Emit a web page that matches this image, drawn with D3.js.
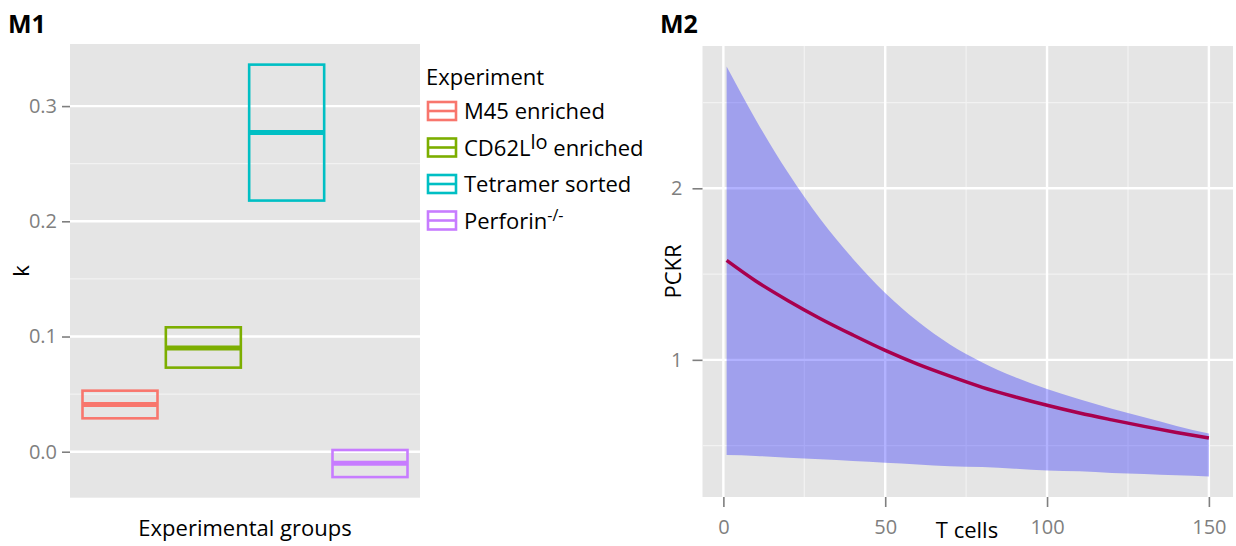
<!DOCTYPE html>
<html>
<head>
<meta charset="utf-8">
<script src="https://cdn.jsdelivr.net/npm/d3@7"></script>
<style>
  body { margin: 0; background: #fff; }
  svg { font-family: "Open Sans", "Noto Sans", sans-serif; }
</style>
</head>
<body>
<div id="vis"></div>
<script>
// data
const GROUPS = ["M45 enriched", "CD62Llo enriched", "Tetramer sorted", "Perforin-/-"];
const K_MID = [0.041, 0.090, 0.277, -0.010];
const K_LOW = [0.029, 0.073, 0.218, -0.022];
const K_HIGH = [0.053, 0.108, 0.336, 0.0015];
const K_TICKS = [0, 0.1, 0.2, 0.3];
const GROUP_COLORS = ["#F8766D", "#7CAE00", "#00BFC4", "#C77CFF"];

const T_CELLS = [1, 10, 20, 30, 40, 50, 60, 70, 80, 90, 100, 110, 120, 130, 140, 150];
const PCKR = [1.58, 1.46, 1.345, 1.24, 1.145, 1.055, 0.975, 0.905, 0.84, 0.785, 0.735, 0.69, 0.65, 0.612, 0.577, 0.545];
const PCKR_HIGH = [2.71, 2.40, 2.09, 1.82, 1.59, 1.39, 1.225, 1.09, 0.985, 0.90, 0.83, 0.77, 0.715, 0.665, 0.615, 0.57];
const PCKR_LOW = [0.445, 0.44, 0.43, 0.42, 0.41, 0.40, 0.39, 0.38, 0.375, 0.365, 0.355, 0.35, 0.34, 0.335, 0.327, 0.32];
const T_TICKS = [0, 50, 100, 150];
const PCKR_TICKS = [1, 2];

const WIDTH = 1236, HEIGHT = 546;
const GREY_TXT = "#7f7f7f";

const svg = d3.select("#vis").append("svg")
    .attr("width", WIDTH).attr("height", HEIGHT);

// ggplot style 5% padding
function expand(lo, hi) {
  const r = hi - lo;
  return [lo - r * 0.05, hi + r * 0.05];
}

// ---------------- M1 ----------------
const P1 = {left: 70, right: 420, top: 44, bottom: 497.7};

const X1 = d3.scalePoint().domain(GROUPS).range([P1.left, P1.right]).padding(0.6);
const Y1 = d3.scaleLinear()
    .domain(expand(d3.min(K_LOW), d3.max(K_HIGH)))
    .range([P1.bottom, P1.top]);

svg.append("rect")
    .attr("x", P1.left).attr("y", P1.top)
    .attr("width", P1.right - P1.left).attr("height", P1.bottom - P1.top)
    .attr("fill", "#e5e5e5");

// minor grid
svg.append("g").selectAll("line")
  .data([0.05, 0.15, 0.25])
  .enter().append("line")
    .attr("x1", P1.left).attr("x2", P1.right)
    .attr("y1", d => Y1(d)).attr("y2", d => Y1(d))
    .attr("stroke", "#f2f2f2").attr("stroke-width", 1.2);
// major grid
svg.append("g").selectAll("line")
  .data(K_TICKS)
  .enter().append("line")
    .attr("x1", P1.left).attr("x2", P1.right)
    .attr("y1", d => Y1(d)).attr("y2", d => Y1(d))
    .attr("stroke", "#fff").attr("stroke-width", 2.4);

const boxW = X1.step() * 0.9;
const bars = svg.append("g").selectAll("g")
  .data(GROUPS.map((g, i) => ({g: g, mid: K_MID[i], lo: K_LOW[i], hi: K_HIGH[i], col: GROUP_COLORS[i]})))
  .enter().append("g");
bars.append("rect")
    .attr("x", d => X1(d.g) - boxW / 2)
    .attr("y", d => Y1(d.hi))
    .attr("width", boxW)
    .attr("height", d => Y1(d.lo) - Y1(d.hi))
    .attr("fill", "none")
    .attr("stroke", d => d.col)
    .attr("stroke-width", 2.6);
bars.append("line")
    .attr("x1", d => X1(d.g) - boxW / 2).attr("x2", d => X1(d.g) + boxW / 2)
    .attr("y1", d => Y1(d.mid)).attr("y2", d => Y1(d.mid))
    .attr("stroke", d => d.col)
    .attr("stroke-width", 5);

const ax1 = svg.append("g")
    .attr("transform", "translate(" + P1.left + ",0)")
    .call(d3.axisLeft(Y1).tickValues(K_TICKS).tickFormat(d3.format(".1f")).tickSize(8).tickPadding(5));
ax1.select(".domain").remove();
ax1.selectAll("line").attr("stroke", GREY_TXT).attr("stroke-width", 1.6);
ax1.selectAll("text").attr("fill", GREY_TXT).attr("font-size", "20px")
    .attr("font-family", "'Open Sans'");

svg.append("text")
    .attr("transform", "translate(29," + ((P1.top + P1.bottom) / 2) + ") rotate(-90)")
    .attr("text-anchor", "middle")
    .attr("font-size", "22px")
    .text("k");

svg.append("text")
    .attr("x", (P1.left + P1.right) / 2).attr("y", 536)
    .attr("text-anchor", "middle")
    .attr("font-size", "22px")
    .text("Experimental groups");

svg.append("text")
    .attr("x", 8).attr("y", 33)
    .attr("font-size", "25px").attr("font-weight", "bold")
    .text("M1");

// legend
const LEG = svg.append("g");
LEG.append("text")
    .attr("x", 426).attr("y", 85)
    .attr("font-size", "22px")
    .text("Experiment");
const legItems = LEG.selectAll("g.item")
  .data(GROUPS)
  .enter().append("g")
    .attr("class", "item")
    .attr("transform", (d, i) => "translate(428," + (111 + i * 36.5) + ")");
legItems.append("rect")
    .attr("x", 0).attr("y", -9).attr("width", 28).attr("height", 18)
    .attr("fill", "none")
    .attr("stroke", (d, i) => GROUP_COLORS[i]).attr("stroke-width", 2.6);
legItems.append("line")
    .attr("x1", 0).attr("x2", 28).attr("y1", 0).attr("y2", 0)
    .attr("stroke", (d, i) => GROUP_COLORS[i]).attr("stroke-width", 2.6);
legItems.each(function(d) {
  const t = d3.select(this).append("text")
      .attr("x", 36).attr("y", 8)
      .attr("font-size", "22px");
  if (d === "CD62Llo enriched") {
    t.append("tspan").text("CD62L");
    t.append("tspan").attr("dy", -7).attr("font-size", "20px").text("lo");
    t.append("tspan").attr("dy", 7).text(" enriched");
  } else if (d === "Perforin-/-") {
    t.append("tspan").text("Perforin");
    t.append("tspan").attr("dy", -8).attr("font-size", "16px").text("-/-");
  } else {
    t.text(d);
  }
});

// ---------------- M2 ----------------
const P2 = {left: 702.5, right: 1233, top: 46, bottom: 497};

const X2 = d3.scaleLinear()
    .domain(expand(d3.min(T_CELLS), d3.max(T_CELLS)))
    .range([P2.left, P2.right]);
const Y2 = d3.scaleLinear()
    .domain(expand(d3.min(PCKR_LOW), d3.max(PCKR_HIGH)))
    .range([P2.bottom, P2.top]);

svg.append("rect")
    .attr("x", P2.left).attr("y", P2.top)
    .attr("width", P2.right - P2.left).attr("height", P2.bottom - P2.top)
    .attr("fill", "#e5e5e5");

const g2 = svg.append("g");
g2.selectAll("line.minx")
  .data([25, 75, 125])
  .enter().append("line").attr("class", "minx")
    .attr("x1", d => X2(d)).attr("x2", d => X2(d))
    .attr("y1", P2.top).attr("y2", P2.bottom)
    .attr("stroke", "#f2f2f2").attr("stroke-width", 1.2);
g2.selectAll("line.miny")
  .data([0.5, 1.5, 2.5])
  .enter().append("line").attr("class", "miny")
    .attr("x1", P2.left).attr("x2", P2.right)
    .attr("y1", d => Y2(d)).attr("y2", d => Y2(d))
    .attr("stroke", "#f2f2f2").attr("stroke-width", 1.2);
g2.selectAll("line.majx")
  .data(T_TICKS)
  .enter().append("line").attr("class", "majx")
    .attr("x1", d => X2(d)).attr("x2", d => X2(d))
    .attr("y1", P2.top).attr("y2", P2.bottom)
    .attr("stroke", "#fff").attr("stroke-width", 2.4);
g2.selectAll("line.majy")
  .data(PCKR_TICKS)
  .enter().append("line").attr("class", "majy")
    .attr("x1", P2.left).attr("x2", P2.right)
    .attr("y1", d => Y2(d)).attr("y2", d => Y2(d))
    .attr("stroke", "#fff").attr("stroke-width", 2.4);

const ribbon = T_CELLS.map((t, i) => ({t: t, lo: PCKR_LOW[i], hi: PCKR_HIGH[i], y: PCKR[i]}));

svg.append("path")
    .datum(ribbon)
    .attr("d", d3.area()
        .x(d => X2(d.t))
        .y0(d => Y2(d.lo))
        .y1(d => Y2(d.hi))
        .curve(d3.curveMonotoneX))
    .attr("fill", "rgb(0,0,255)")
    .attr("fill-opacity", 0.3);

svg.append("path")
    .datum(ribbon)
    .attr("d", d3.line()
        .x(d => X2(d.t))
        .y(d => Y2(d.y))
        .curve(d3.curveMonotoneX))
    .attr("fill", "none")
    .attr("stroke", "#a8004e")
    .attr("stroke-width", 3.5);

const ax2y = svg.append("g")
    .attr("transform", "translate(" + P2.left + ",0)")
    .call(d3.axisLeft(Y2).tickValues(PCKR_TICKS).tickFormat(d3.format("d")).tickSize(10).tickPadding(10));
const ax2x = svg.append("g")
    .attr("transform", "translate(0," + P2.bottom + ")")
    .call(d3.axisBottom(X2).tickValues(T_TICKS).tickFormat(d3.format("d")).tickSize(10).tickPadding(13));
[ax2y, ax2x].forEach(a => {
  a.select(".domain").remove();
  a.selectAll("line").attr("stroke", GREY_TXT).attr("stroke-width", 1.6);
  a.selectAll("text").attr("fill", GREY_TXT).attr("font-size", "20px")
      .attr("font-family", "'Open Sans'");
});

svg.append("text")
    .attr("transform", "translate(681," + ((P2.top + P2.bottom) / 2) + ") rotate(-90)")
    .attr("text-anchor", "middle")
    .attr("font-size", "22px")
    .text("PCKR");

svg.append("text")
    .attr("x", 967).attr("y", 538)
    .attr("text-anchor", "middle")
    .attr("font-size", "22px")
    .text("T cells");

svg.append("text")
    .attr("x", 660).attr("y", 33)
    .attr("font-size", "25px").attr("font-weight", "bold")
    .text("M2");
</script>
</body>
</html>
